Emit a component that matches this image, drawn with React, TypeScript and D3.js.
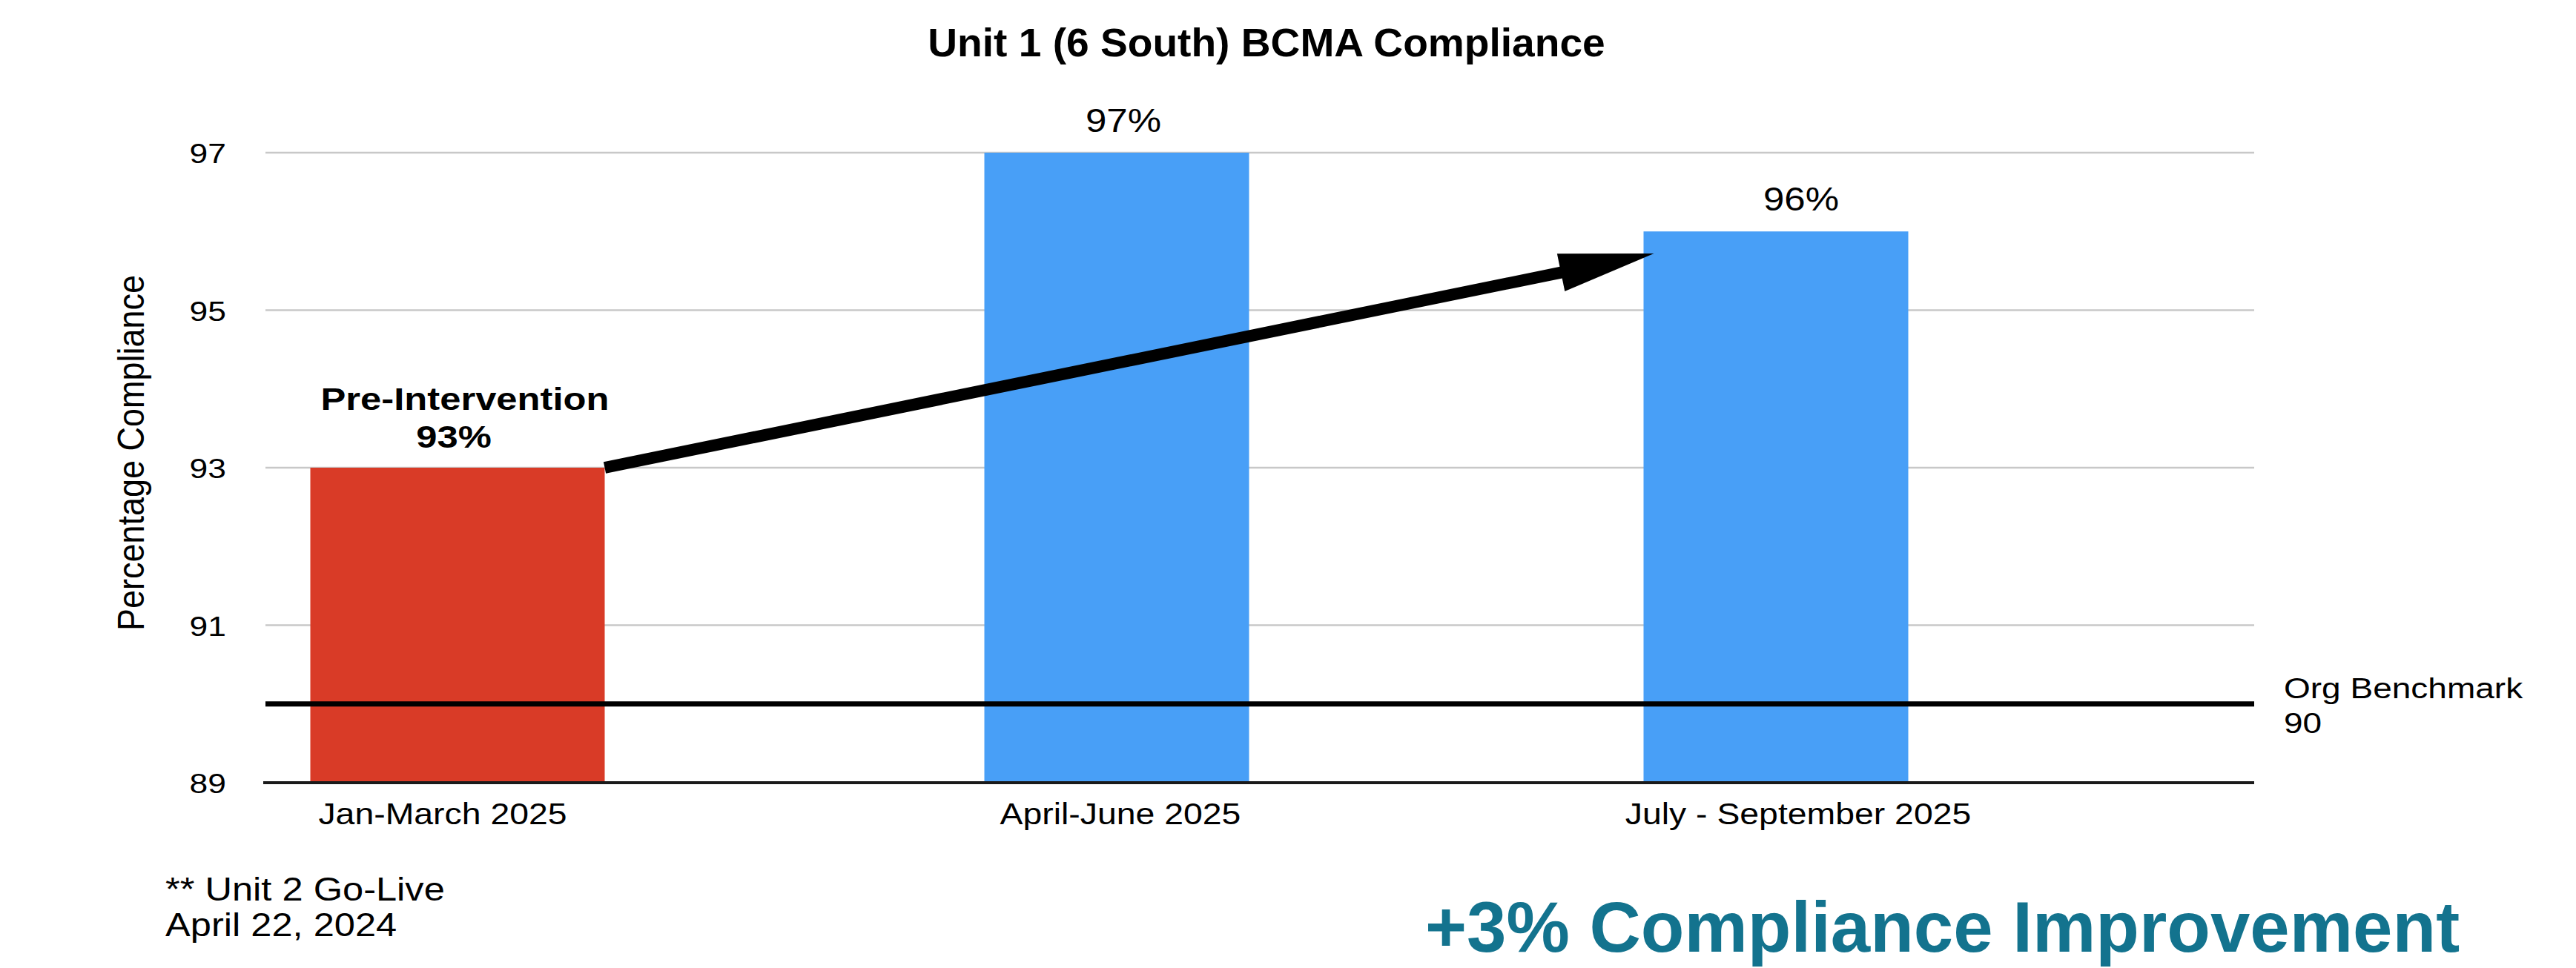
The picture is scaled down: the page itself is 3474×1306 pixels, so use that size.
import * as d3 from "d3";

const categories = ["Jan-March 2025", "April-June 2025", "July - September 2025"];
const compliance = [93, 97, 96];
const valueLabels = ["93%", "97%", "96%"];
const barColors = ["#D93B27", "#489FF7", "#489FF7"];
const yTicks = [89, 91, 93, 95, 97];
const benchmark = 90;
// arrow annotation: from top of the first bar to the side of the last bar
const arrowFromValue = 93;
const arrowToValue = 95.72;

const W = 3474;
const H = 1306;
const FONT = "'Liberation Sans', Arial, Helvetica, sans-serif";

// the reference text is a bit wider than plain Helvetica, so stretch it horizontally
function SText(props: {
  x: number;
  y: number;
  sx?: number;
  size: number;
  anchor?: "start" | "middle" | "end";
  bold?: boolean;
  fill?: string;
  rotate?: number;
  children: string;
}) {
  const { x, y, sx = 1.16, size, anchor = "middle", bold, fill = "#000", rotate } = props;
  return (
    <text
      transform={`translate(${x},${y}) scale(${sx},1)${rotate ? ` rotate(${rotate})` : ""}`}
      textAnchor={anchor}
      fontSize={size}
      fontWeight={bold ? 700 : 400}
      fontFamily={FONT}
      fill={fill}
    >
      {props.children}
    </text>
  );
}

export default function App() {
  const plotLeft = 358;
  const plotRight = 3040;

  // bar centres and label centres are not quite aligned in the original
  const x = d3.scalePoint<string>().domain(categories).range([617, 2395]);
  const labelX = d3.scalePoint<string>().domain(categories).range([597, 2425]);
  const y = d3.scaleLinear().domain([89, 97]).range([1056, 206]);

  const barW = 357;
  const firstBarW = 397;
  const widthOf = (i: number) => (i === 0 ? firstBarW : barW);

  // arrow geometry
  const x0 = x(categories[0])! + firstBarW / 2;
  const y0 = y(arrowFromValue);
  const x1 = x(categories[2])! - barW / 2 + 14;
  const y1 = y(arrowToValue);
  const len = Math.hypot(x1 - x0, y1 - y0);
  const ux = (x1 - x0) / len;
  const uy = (y1 - y0) / len;
  const headLen = 128;
  const headHalf = 26;
  const bx = x1 - ux * headLen;
  const by = y1 - uy * headLen;
  const head = [
    [x1, y1],
    [bx - uy * headHalf, by + ux * headHalf],
    [bx + uy * headHalf, by - ux * headHalf],
  ];

  return (
    <svg
      width={W}
      height={H}
      viewBox={`0 0 ${W} ${H}`}
      style={{ position: "absolute", left: 0, top: 0, background: "#fff" }}
    >
      <rect width={W} height={H} fill="#fff" />

      <SText x={1708} y={76} size={53} sx={1.04} bold>
        Unit 1 (6 South) BCMA Compliance
      </SText>

      {/* grid */}
      {yTicks.slice(1).map((t) => (
        <line
          key={t}
          x1={plotLeft}
          x2={plotRight}
          y1={y(t)}
          y2={y(t)}
          stroke="#c8c8c8"
          strokeWidth={2.5}
        />
      ))}

      {/* y tick labels */}
      {yTicks.map((t) => (
        <SText key={t} x={305} y={y(t) + 14} size={37} sx={1.2} anchor="end">
          {String(t)}
        </SText>
      ))}

      <SText x={194} y={611} size={45} sx={1.12} rotate={-90}>
        Percentage Compliance
      </SText>

      {/* bars */}
      {categories.map((c, i) => (
        <rect
          key={c}
          x={x(c)! - widthOf(i) / 2}
          y={y(compliance[i])}
          width={widthOf(i)}
          height={y(89) - y(compliance[i])}
          fill={barColors[i]}
        />
      ))}

      {/* benchmark */}
      <line
        x1={plotLeft}
        x2={plotRight}
        y1={y(benchmark)}
        y2={y(benchmark)}
        stroke="#000"
        strokeWidth={7}
      />
      <SText x={3080} y={942} size={39} sx={1.18} anchor="start">
        Org Benchmark
      </SText>
      <SText x={3080} y={989} size={39} sx={1.18} anchor="start">
        {String(benchmark)}
      </SText>

      {/* baseline axis */}
      <line
        x1={plotLeft - 3}
        x2={plotRight}
        y1={y(89)}
        y2={y(89)}
        stroke="#1a1a1a"
        strokeWidth={4}
      />

      {/* category labels */}
      {categories.map((c) => (
        <SText key={c} x={labelX(c)!} y={1112} size={40} sx={1.16}>
          {c}
        </SText>
      ))}

      {/* value labels */}
      {categories.map((c, i) =>
        i === 0 ? (
          <g key={c}>
            <SText x={x(c)! + 10} y={y(compliance[i]) - 78} size={43} sx={1.18} bold>
              Pre-Intervention
            </SText>
            <SText x={x(c)! - 5} y={y(compliance[i]) - 27} size={43} sx={1.18} bold>
              {valueLabels[i]}
            </SText>
          </g>
        ) : (
          <SText key={c} x={labelX(c)! + 4} y={y(compliance[i]) - 28} size={44} sx={1.16}>
            {valueLabels[i]}
          </SText>
        )
      )}

      {/* arrow */}
      <line x1={x0} y1={y0} x2={bx + ux * 4} y2={by + uy * 4} stroke="#000" strokeWidth={16} />
      <polygon points={head.map((p) => p.join(",")).join(" ")} fill="#000" />

      {/* footnote */}
      <SText x={223} y={1215} size={44} sx={1.15} anchor="start">
        ** Unit 2 Go-Live
      </SText>
      <SText x={223} y={1263} size={44} sx={1.15} anchor="start">
        April 22, 2024
      </SText>

      <SText x={1922} y={1284} size={96} sx={1} anchor="start" bold fill="#13738E">
        +3% Compliance Improvement
      </SText>
    </svg>
  );
}
